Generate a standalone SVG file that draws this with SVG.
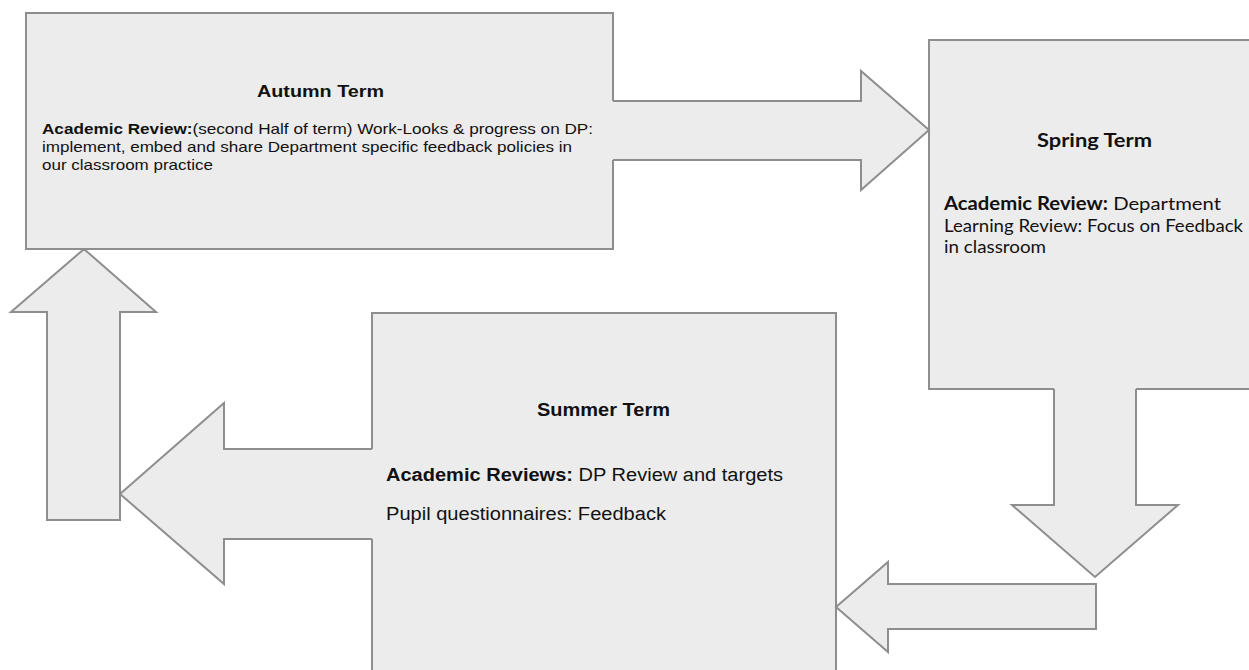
<svg xmlns="http://www.w3.org/2000/svg" width="1249" height="670" viewBox="0 0 1249 670">
<style>
.box{fill:#ececec;stroke:#8e8e8e;stroke-width:2}
.af{fill:#ececec;stroke:none}
.as{fill:none;stroke:#8e8e8e;stroke-width:2;stroke-linejoin:miter}
.ar{font-family:"Liberation Sans",Arial,sans-serif;fill:#111}
.gs{font-family:Lato,"Open Sans",sans-serif;fill:#111}
.b{font-weight:bold}
</style>
<rect width="1249" height="670" fill="#ffffff"/>
<g id="autumn">
<rect class="box" x="26" y="13" width="587" height="236"/>
<text class="ar b" x="257" y="97" font-size="17" textLength="127" lengthAdjust="spacingAndGlyphs">Autumn Term</text>
<text class="ar" x="42" y="134" font-size="15" textLength="551" lengthAdjust="spacingAndGlyphs"><tspan class="b">Academic Review:</tspan>(second Half of term) Work-Looks &amp; progress on DP:</text>
<text class="ar" x="42" y="152" font-size="15" textLength="530" lengthAdjust="spacingAndGlyphs">implement, embed and share Department specific feedback policies in</text>
<text class="ar" x="42" y="170" font-size="15" textLength="171" lengthAdjust="spacingAndGlyphs">our classroom practice</text>
</g>
<g id="spring">
<rect class="box" x="929" y="40" width="332" height="349"/>
<text class="gs b" x="1037" y="147" font-size="19" textLength="115" lengthAdjust="spacingAndGlyphs">Spring Term</text>
<text class="gs" x="944" y="210" font-size="18" textLength="277" lengthAdjust="spacingAndGlyphs"><tspan class="b">Academic Review:</tspan> Department</text>
<text class="gs" x="944" y="232" font-size="18" textLength="299" lengthAdjust="spacingAndGlyphs">Learning Review: Focus on Feedback</text>
<text class="gs" x="944" y="253" font-size="18" textLength="102" lengthAdjust="spacingAndGlyphs">in classroom</text>
</g>
<g id="summer">
<rect class="box" x="372" y="313" width="464" height="370"/>
<text class="ar b" x="537" y="416" font-size="18" textLength="133" lengthAdjust="spacingAndGlyphs">Summer Term</text>
<text class="ar" x="386" y="481" font-size="18" textLength="397" lengthAdjust="spacingAndGlyphs"><tspan class="b">Academic Reviews:</tspan> DP Review and targets</text>
<text class="ar" x="386" y="520" font-size="18" textLength="280" lengthAdjust="spacingAndGlyphs">Pupil questionnaires: Feedback</text>
</g>
<g id="connectors">
<g id="arrow-autumn-spring">
<polygon class="af" points="610,101 861,101 861,71 929,130 861,190 861,160 610,160"/>
<polyline class="as" points="613,101 861,101 861,71 929,130 861,190 861,160 613,160"/>
</g>
<g id="arrow-spring-down">
<polygon class="af" points="1054,386 1054,505 1012,505 1095,577 1178,505 1136,505 1136,386"/>
<polyline class="as" points="1054,389 1054,505 1012,505 1095,577 1178,505 1136,505 1136,389"/>
</g>
<g id="arrow-to-summer">
<polygon class="af" points="1096,584 888,584 888,562 836,607 888,652 888,629 1096,629"/>
<polygon class="as" points="1096,584 888,584 888,562 836,607 888,652 888,629 1096,629"/>
</g>
<g id="arrow-summer-left">
<polygon class="af" points="375,449 224,449 224,403 120,494 224,584 224,539 375,539"/>
<polyline class="as" points="372,449 224,449 224,403 120,494 224,584 224,539 372,539"/>
</g>
<g id="arrow-up">
<polygon class="af" points="47,520 47,312 11,312 84,249 156,312 120,312 120,520"/>
<polygon class="as" points="47,520 47,312 11,312 84,249 156,312 120,312 120,520"/>
</g>
</g>
</svg>
